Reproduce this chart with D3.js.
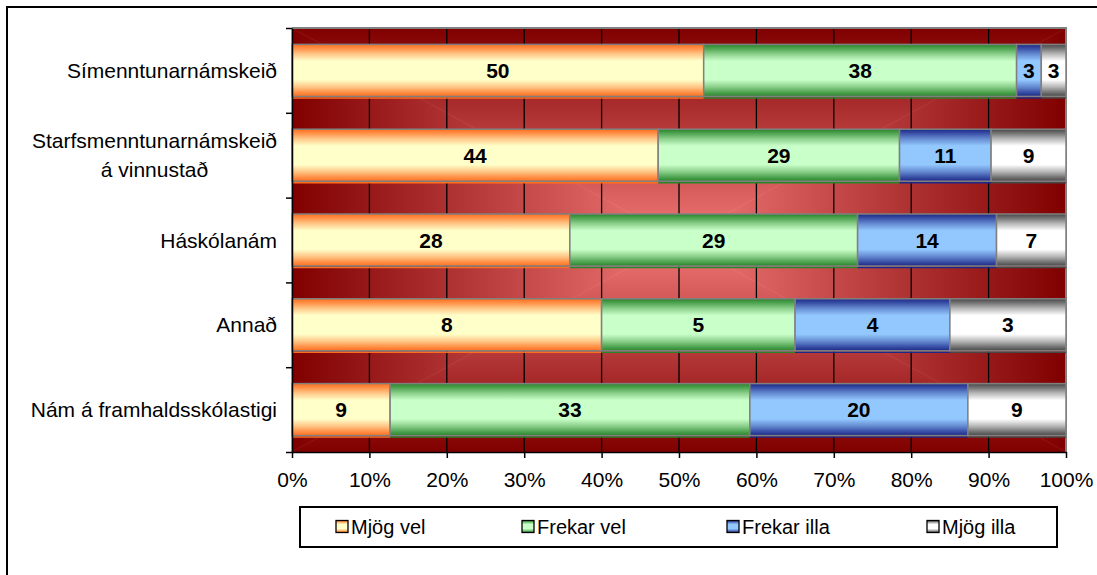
<!DOCTYPE html>
<html><head><meta charset="utf-8">
<script src="https://cdn.jsdelivr.net/npm/d3@7"></script>
<style>
body{margin:0;background:#fff}
svg{display:block}
text{font-family:"Liberation Sans",Arial,sans-serif;fill:#000}
</style>
</head><body>
<svg id="c" width="1097" height="575"></svg>
<script>
// ---- data ----
const categories = ["Símenntunarnámskeið", "Starfsmenntunarnámskeið\ná vinnustað", "Háskólanám", "Annað", "Nám á framhaldsskólastigi"];
const seriesNames = ["Mjög vel", "Frekar vel", "Frekar illa", "Mjög illa"];
const mjogVel    = [50, 44, 28, 8, 9];
const frekarVel  = [38, 29, 29, 5, 33];
const frekarIlla = [3, 11, 14, 4, 20];
const mjogIlla   = [3, 9, 7, 3, 9];
const xTicks = [0, 0.1, 0.2, 0.3, 0.4, 0.5, 0.6, 0.7, 0.8, 0.9, 1];
const xTickLabels = ["0%", "10%", "20%", "30%", "40%", "50%", "60%", "70%", "80%", "90%", "100%"];

// ---- styling ----
const seriesEdge  = ["#FF6E1E", "#28852A", "#1C2888", "#474747"];
const seriesLight = ["#FFFFC9", "#C9FFC9", "#93C8FF", "#FFFFFF"];

const svg = d3.select("#c");
const W = 1097, H = 575;
const L = 292, R = 1066, T = 28, B = 452;

// outer border
svg.append("rect").attr("x", 7).attr("y", 7).attr("width", W + 10).attr("height", H + 10)
  .attr("fill", "#fff").attr("stroke", "#000").attr("stroke-width", 2);

const defs = svg.append("defs");
seriesNames.forEach((s, i) => {
  const g = defs.append("linearGradient").attr("id", "g" + i).attr("x1", 0).attr("y1", 0).attr("x2", 0).attr("y2", 1);
  const mix = t => d3.interpolateRgb(seriesEdge[i], seriesLight[i])(t);
  const st = [[0, seriesEdge[i]], [0.08, mix(0.25)], [0.18, mix(0.6)], [0.32, seriesLight[i]],
              [0.68, seriesLight[i]], [0.82, mix(0.6)], [0.92, mix(0.25)], [1, seriesEdge[i]]];
  st.forEach(([o, c]) => g.append("stop").attr("offset", o).attr("stop-color", c));
});

// x / y scales
const x = d3.scaleLinear().domain([0, 1]).range([L, R]);
const pad = 1 - 52 / ((B - T) / categories.length);
const y = d3.scaleBand().domain(categories).range([T, B]).paddingInner(pad).paddingOuter(pad / 2);

// background: rectangular "from centre" gradient
const cx = (L + R) / 2, cy = (T + B) / 2;
const dark = "#800000", light = "#F37A7A";
const tris = [
  {pts: [[L, T], [R, T], [cx, cy]], g: [cx, T, cx, cy]},
  {pts: [[L, B], [R, B], [cx, cy]], g: [cx, B, cx, cy]},
  {pts: [[L, T], [L, B], [cx, cy]], g: [L, cy, cx, cy]},
  {pts: [[R, T], [R, B], [cx, cy]], g: [R, cy, cx, cy]}
];
tris.forEach((t, i) => {
  const g = defs.append("linearGradient").attr("id", "bg" + i).attr("gradientUnits", "userSpaceOnUse")
    .attr("x1", t.g[0]).attr("y1", t.g[1]).attr("x2", t.g[2]).attr("y2", t.g[3]);
  g.append("stop").attr("offset", 0).attr("stop-color", dark);
  g.append("stop").attr("offset", 1).attr("stop-color", light);
  svg.append("polygon").attr("points", t.pts.map(p => p.join(",")).join(" "))
    .attr("fill", `url(#bg${i})`).attr("stroke", `url(#bg${i})`).attr("stroke-width", 0.6);
});

// gridlines
svg.append("g").selectAll("line").data(xTicks.slice(1, -1)).join("line")
  .attr("x1", d => x(d)).attr("x2", d => x(d)).attr("y1", T).attr("y2", B)
  .attr("stroke", "#000").attr("stroke-width", 1.3);

// plot border (grey top/right)
svg.append("path").attr("d", `M${L},${T}H${R}V${B}`).attr("fill", "none").attr("stroke", "#808080").attr("stroke-width", 2);

// stacked bars
const rows = categories.map((c, i) => ({cat: c, "Mjög vel": mjogVel[i], "Frekar vel": frekarVel[i], "Frekar illa": frekarIlla[i], "Mjög illa": mjogIlla[i]}));
const stacked = d3.stack().keys(seriesNames).offset(d3.stackOffsetExpand)(rows);

const barG = svg.append("g");
stacked.forEach((layer, si) => {
  const g = barG.append("g");
  g.selectAll("line").data(layer).join("line")
    .attr("x1", d => x(d[0])).attr("x2", d => x(d[1]))
    .attr("y1", d => y(d.data.cat) + y.bandwidth() + 1.5).attr("y2", d => y(d.data.cat) + y.bandwidth() + 1.5)
    .attr("stroke", seriesEdge[si]).attr("stroke-width", 1.5);
  g.selectAll("rect").data(layer).join("rect")
    .attr("x", d => x(d[0])).attr("width", d => x(d[1]) - x(d[0]))
    .attr("y", d => y(d.data.cat)).attr("height", y.bandwidth())
    .attr("fill", `url(#g${si})`).attr("stroke", "#808080").attr("stroke-width", 1.5);
});
stacked.forEach((layer, si) => {
  barG.append("g").selectAll("text").data(layer).join("text")
    .attr("x", d => (x(d[0]) + x(d[1])) / 2).attr("y", d => y(d.data.cat) + y.bandwidth() / 2)
    .attr("dy", "0.36em").attr("text-anchor", "middle")
    .attr("font-size", 21).attr("font-weight", "bold")
    .text(d => d.data[seriesNames[si]]);
});

// axes
const xAxis = d3.axisBottom(x).tickValues(xTicks).tickFormat((d, i) => xTickLabels[i]).tickSize(6).tickSizeOuter(0).tickPadding(14);
const xa = svg.append("g").attr("transform", `translate(0,${B})`).call(xAxis);
xa.select(".domain").attr("stroke", "#000").attr("stroke-width", 1.5);
xa.selectAll(".tick line").attr("stroke", "#000").attr("stroke-width", 1.5);
xa.selectAll("text").attr("font-size", 21).attr("font-family", "Liberation Sans, Arial, sans-serif").attr("fill", "#000");

const yb = d3.scaleLinear().domain([0, categories.length]).range([T, B]);
const ya = svg.append("g").attr("transform", `translate(${L},0)`)
  .call(d3.axisLeft(yb).ticks(categories.length).tickFormat("").tickSize(6).tickSizeOuter(0));
ya.select(".domain").attr("stroke", "#000").attr("stroke-width", 1.5);
ya.selectAll(".tick line").attr("stroke", "#000").attr("stroke-width", 1.5);

// category labels
const catG = svg.append("g");
categories.forEach(c => {
  const lines = c.split("\n");
  const g = catG.append("g");
  const lh = 29;
  const cyy = y(c) + y.bandwidth() / 2;
  const ts = lines.map((ln, i) => g.append("text").attr("font-size", 21)
    .attr("y", cyy + (i - (lines.length - 1) / 2) * lh).attr("dy", "0.36em").text(ln));
  const wmax = d3.max(ts, t => t.node().getComputedTextLength());
  ts.forEach(t => t.attr("text-anchor", "middle").attr("x", 277 - wmax / 2));
});

// legend
const lg = svg.append("g");
lg.append("rect").attr("x", 300).attr("y", 507).attr("width", 757).attr("height", 40)
  .attr("fill", "#fff").attr("stroke", "#000").attr("stroke-width", 2);
const legX = [336, 522, 727, 927];
seriesNames.forEach((s, i) => {
  lg.append("rect").attr("x", legX[i]).attr("y", 520.5).attr("width", 12).attr("height", 12)
    .attr("fill", `url(#g${i})`).attr("stroke", "#000").attr("stroke-width", 1.3);
  lg.append("text").attr("x", legX[i] + 15).attr("y", 527).attr("dy", "0.36em").attr("font-size", 20).text(s);
});
</script>
</body></html>
